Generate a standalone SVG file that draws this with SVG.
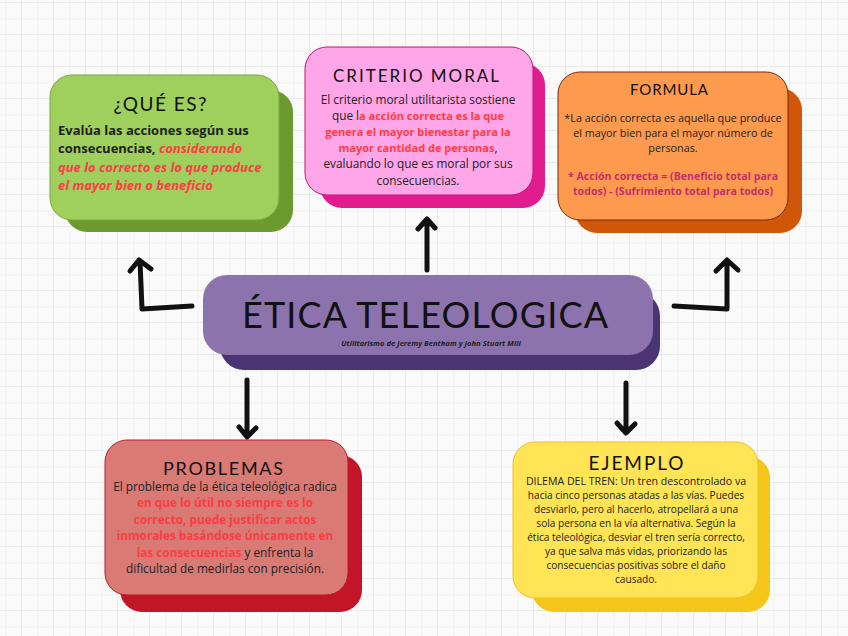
<svg xmlns="http://www.w3.org/2000/svg" width="848" height="636" viewBox="0 0 848 636">
<defs>
<pattern id="grid" width="32" height="32" patternUnits="userSpaceOnUse" x="-10" y="3">
<path d="M32 0V32M0 32H32" fill="none" stroke="#d6d6d6" stroke-width="0.9"/>
<path d="M16 0V32M0 16H32" fill="none" stroke="#ececec" stroke-width="0.6"/>
</pattern>
<style>
.ttl{font-family:Lato,"Open Sans",sans-serif;font-weight:400;fill:#111;text-anchor:middle}
.bd{font-family:"Open Sans","Noto Sans",sans-serif;fill:#222;text-anchor:middle}
.b{font-weight:700}
.red{fill:#ff3b45;font-weight:700}
.arr{fill:none;stroke:#111;stroke-width:5;stroke-linecap:round;stroke-linejoin:round}
</style>
</defs>
<rect width="848" height="636" fill="#fafafa"/>
<rect width="848" height="636" fill="url(#grid)"/>

<g id="connectors">
<path class="arr" d="M192 306L142 309L140 261M130 271L139 260L151 269"/>
<path class="arr" d="M674 306L727 309L727 261M716 271L727 260L738 270"/>
<path class="arr" d="M427 270L427 220M418 229L427 219L435 228"/>
<path class="arr" d="M247 380L247 436M239 427L247 437L256 428"/>
<path class="arr" d="M626 383L626 432M617 423L626 433L635 424"/>
</g>

<g id="que-es">
<rect x="65" y="90" width="228" height="142" rx="22" fill="#6c9a2e"/>
<rect x="50" y="75" width="229" height="145" rx="22" fill="#9fcf5c" stroke="#7aa83c" stroke-width="1"/>
<text class="ttl" x="160" y="111" font-size="19" textLength="93" lengthAdjust="spacing">¿QUÉ ES?</text>
<text class="bd b" font-size="13" style="text-anchor:start" x="58" y="135">Evalúa las acciones según sus</text>
<text class="bd b" font-size="13" style="text-anchor:start" x="58" y="153">consecuencias, <tspan class="red" font-style="italic">considerando</tspan></text>
<text class="bd red" font-size="13" font-style="italic" style="text-anchor:start" x="58" y="172">que lo correcto es lo que produce</text>
<text class="bd red" font-size="13" font-style="italic" style="text-anchor:start" x="58" y="190">el mayor bien o beneficio</text>
</g>

<g id="criterio-moral">
<rect x="320" y="63" width="225" height="145" rx="22" fill="#e21c8e"/>
<rect x="305" y="47" width="228" height="148" rx="22" fill="#ffa6e8" stroke="#c0157a" stroke-width="1"/>
<text class="ttl" x="416" y="82" font-size="17" textLength="166" lengthAdjust="spacing">CRITERIO MORAL</text>
<text class="bd" font-size="11.8" x="418" y="104">El criterio moral utilitarista sostiene</text>
<text class="bd" font-size="11.8" x="418" y="120">que l<tspan class="red" font-size="11">a acción correcta es la que</tspan></text>
<text class="bd red" font-size="11" x="418" y="136">genera el mayor bienestar para la</text>
<text class="bd" font-size="11.8" x="418" y="152"><tspan class="red" font-size="11">mayor cantidad de personas</tspan>,</text>
<text class="bd" font-size="11.8" x="418" y="168">evaluando lo que es moral por sus</text>
<text class="bd" font-size="11.8" x="418" y="185">consecuencias.</text>
</g>

<g id="formula">
<rect x="575" y="88" width="227" height="145" rx="22" fill="#d0560a"/>
<rect x="558" y="72" width="230" height="148" rx="22" fill="#fe9a4d" stroke="#7a2a10" stroke-width="1"/>
<text class="ttl" x="669" y="95" font-size="15" textLength="78" lengthAdjust="spacing">FORMULA</text>
<text class="bd" font-size="10.8" x="673" y="122">*La acción correcta es aquella que produce</text>
<text class="bd" font-size="10.8" x="673" y="137">el mayor bien para el mayor número de</text>
<text class="bd" font-size="10.8" x="673" y="152">personas.</text>
<text class="bd b" font-size="10.6" style="fill:#c2306a" x="673" y="180">* Acción correcta = (Beneficio total para</text>
<text class="bd b" font-size="10.6" style="fill:#c2306a" x="673" y="195">todos) - (Sufrimiento total para todos)</text>
</g>

<g id="etica-teleologica">
<rect x="220" y="292" width="440" height="78" rx="24" fill="#4b3474"/>
<rect x="203" y="275" width="450" height="80" rx="24" fill="#8c73ae"/>
<text class="ttl" x="425" y="328" font-size="36" textLength="366" lengthAdjust="spacing">ÉTICA TELEOLOGICA</text>
<text font-family="'Open Sans',sans-serif" font-size="7.6" font-weight="700" font-style="italic" fill="#222" text-anchor="middle" x="431" y="346">Utilitarismo de Jeremy Bentham y John Stuart Mill</text>
</g>

<g id="problemas">
<rect x="120" y="455" width="242" height="157" rx="22" fill="#c21628"/>
<rect x="105" y="440" width="243" height="155" rx="22" fill="#d97a74" stroke="#c21628" stroke-width="1"/>
<text class="ttl" x="223" y="475" font-size="18" textLength="120" lengthAdjust="spacing">PROBLEMAS</text>
<text class="bd" font-size="11.8" x="225" y="491">El problema de la ética teleológica radica</text>
<text class="bd red" font-size="11.8" x="225" y="507">en que lo útil no siempre es lo</text>
<text class="bd red" font-size="11.8" x="225" y="524">correcto, puede justificar actos</text>
<text class="bd red" font-size="11.8" x="225" y="540">inmorales basándose únicamente en</text>
<text class="bd" font-size="11.8" x="225" y="557"><tspan class="red">las consecuencias</tspan> y enfrenta la</text>
<text class="bd" font-size="11.8" x="225" y="573">dificultad de medirlas con precisión.</text>
</g>

<g id="ejemplo">
<rect x="532" y="456" width="238" height="156" rx="22" fill="#f5c51a"/>
<rect x="513" y="442" width="245" height="156" rx="22" fill="#ffe455" stroke="#f0c020" stroke-width="1"/>
<text class="ttl" x="636" y="470" font-size="19" textLength="95" lengthAdjust="spacing">EJEMPLO</text>
<text class="bd" font-size="10.6" x="636" y="485">DILEMA DEL TREN: Un tren descontrolado va</text>
<text class="bd" font-size="10.1" x="636" y="499">hacia cinco personas atadas a las vías. Puedes</text>
<text class="bd" font-size="10.1" x="636" y="513">desviarlo, pero al hacerlo, atropellará a una</text>
<text class="bd" font-size="10.1" x="636" y="527">sola persona en la vía alternativa. Según la</text>
<text class="bd" font-size="10.1" x="636" y="541">ética teleológica, desviar el tren sería correcto,</text>
<text class="bd" font-size="10.1" x="636" y="555">ya que salva más vidas, priorizando las</text>
<text class="bd" font-size="10.1" x="636" y="569">consecuencias positivas sobre el daño</text>
<text class="bd" font-size="10.1" x="636" y="583">causado.</text>
</g>
</svg>
